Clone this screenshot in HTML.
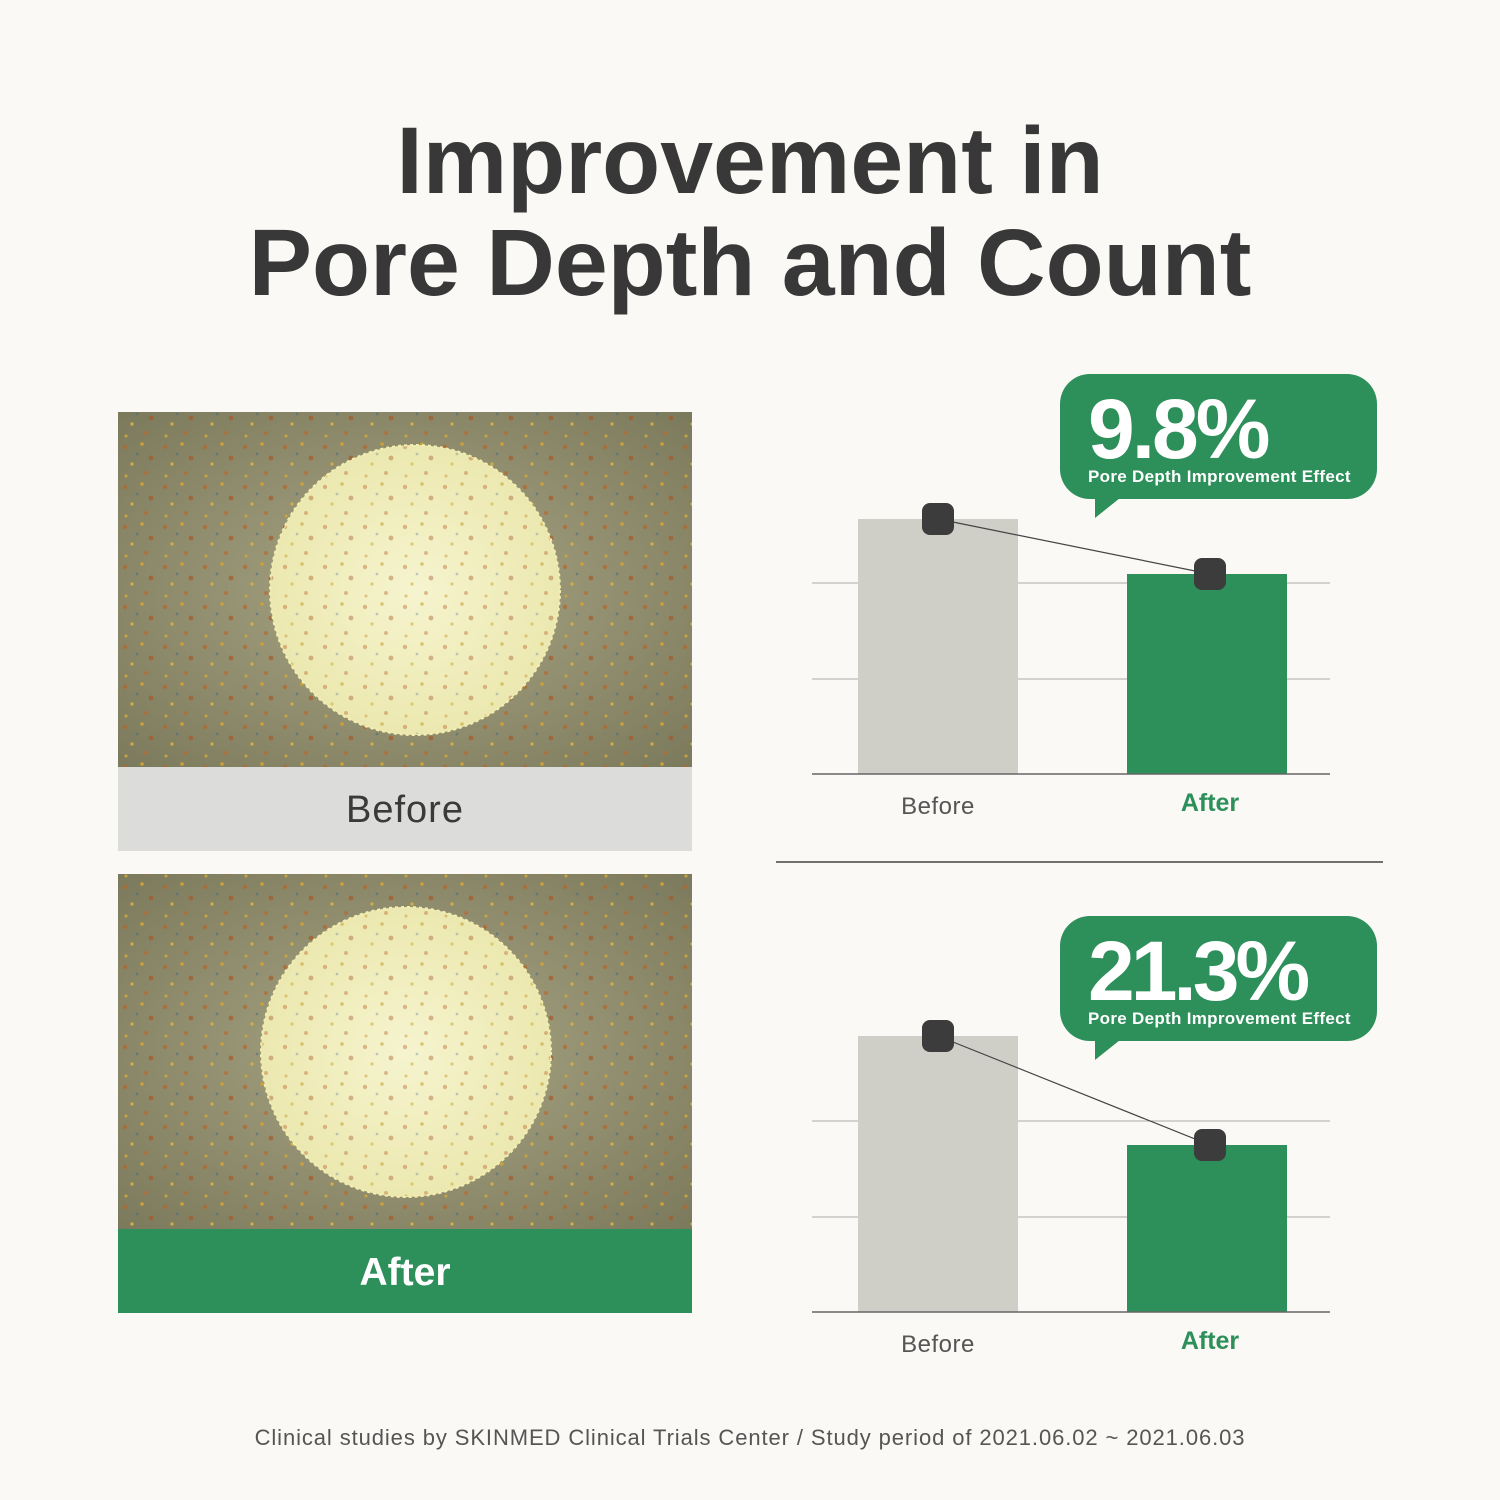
<!DOCTYPE html>
<html><head><meta charset="utf-8"><style>
body{margin:0;background:#fbf9f5;font-family:"Liberation Sans",sans-serif;}
.w{position:relative;width:1500px;height:1500px;overflow:hidden;background:#fbf9f5}
.t{position:absolute;left:0;width:1500px;text-align:center;font-weight:bold;color:#383838;font-size:95px;letter-spacing:0px}
.a{position:absolute}
</style></head><body><div class="w">
<div class="t" style="top:107px">Improvement in</div>
<div class="t" style="top:209px">Pore Depth and Count</div>
<svg class="a" style="left:0;top:0" width="1500" height="1500">
<defs>
<pattern id="sp" width="40" height="40" patternUnits="userSpaceOnUse">
<rect width="40" height="40" fill="none"/>
<circle cx="5" cy="7" r="2.2" fill="#b5662a" opacity=".7"/><circle cx="22" cy="4" r="1.8" fill="#c8a23a"/>
<circle cx="31" cy="18" r="2.4" fill="#a55a2a" opacity=".7"/><circle cx="12" cy="24" r="1.6" fill="#d0b040"/>
<circle cx="26" cy="33" r="2" fill="#b86a30" opacity=".7"/><circle cx="6" cy="36" r="1.5" fill="#c9a540"/>
<circle cx="17" cy="14" r="1.4" fill="#3a6a8a" opacity=".5"/>
</pattern>
<radialGradient id="bg" cx=".5" cy=".5" r=".7"><stop offset="0" stop-color="#a8a684"/><stop offset="1" stop-color="#7c7a5c"/></radialGradient>
<radialGradient id="cg"><stop offset="0" stop-color="#f6f4cf"/><stop offset="1" stop-color="#ece8b0"/></radialGradient>
</defs>
<rect x="118" y="412" width="574" height="355" fill="url(#bg)"/>
<rect x="118" y="412" width="574" height="355" fill="url(#sp)"/>
<circle cx="415" cy="590" r="145" fill="url(#cg)" stroke="#f3efb0" stroke-dasharray="3 3" stroke-width="2"/>
<circle cx="415" cy="590" r="144" fill="url(#sp)" opacity=".6"/>
<rect x="118" y="767" width="574" height="84" fill="#dcdcdb"/>
<text x="405" y="822" font-size="38" text-anchor="middle" fill="#3a3a3a" font-family="Liberation Sans" letter-spacing="1">Before</text>
<rect x="118" y="874" width="574" height="355" fill="url(#bg)"/>
<rect x="118" y="874" width="574" height="355" fill="url(#sp)"/>
<circle cx="406" cy="1052" r="145" fill="url(#cg)" stroke="#f3efb0" stroke-dasharray="3 3" stroke-width="2"/>
<circle cx="406" cy="1052" r="144" fill="url(#sp)" opacity=".6"/>
<rect x="118" y="1229" width="574" height="84" fill="#2d8f5a"/>
<text x="405" y="1285" font-size="39" font-weight="bold" text-anchor="middle" fill="#fff" font-family="Liberation Sans">After</text>

<g stroke="#aaa" stroke-width="1"><line x1="812" y1="583" x2="1330" y2="583"/><line x1="812" y1="679" x2="1330" y2="679"/>
<line x1="812" y1="1121" x2="1330" y2="1121"/><line x1="812" y1="1217" x2="1330" y2="1217"/></g>
<rect x="858" y="519" width="160" height="255" fill="#cfcec7"/>
<rect x="1127" y="574" width="160" height="200" fill="#2d8f5a"/>
<line x1="812" y1="774" x2="1330" y2="774" stroke="#666" stroke-width="1.5"/>
<line x1="938" y1="519" x2="1210" y2="574" stroke="#444" stroke-width="1.2"/>
<rect x="922" y="503" width="32" height="32" rx="8" fill="#3c3c3c"/>
<rect x="1194" y="558" width="32" height="32" rx="8" fill="#3c3c3c"/>
<text x="938" y="814" font-size="24" text-anchor="middle" fill="#555" font-family="Liberation Sans" letter-spacing="0.5">Before</text>
<text x="1210" y="811" font-size="25" font-weight="bold" text-anchor="middle" fill="#2d8f5a" font-family="Liberation Sans">After</text>
<line x1="776" y1="862" x2="1383" y2="862" stroke="#444" stroke-width="1.5"/>

<rect x="858" y="1036" width="160" height="276" fill="#cfcec7"/>
<rect x="1127" y="1145" width="160" height="167" fill="#2d8f5a"/>
<line x1="812" y1="1312" x2="1330" y2="1312" stroke="#666" stroke-width="1.5"/>
<line x1="938" y1="1036" x2="1210" y2="1145" stroke="#444" stroke-width="1.2"/>
<rect x="922" y="1020" width="32" height="32" rx="8" fill="#3c3c3c"/>
<rect x="1194" y="1129" width="32" height="32" rx="8" fill="#3c3c3c"/>
<text x="938" y="1352" font-size="24" text-anchor="middle" fill="#555" font-family="Liberation Sans" letter-spacing="0.5">Before</text>
<text x="1210" y="1349" font-size="25" font-weight="bold" text-anchor="middle" fill="#2d8f5a" font-family="Liberation Sans">After</text>

<rect x="1060" y="374" width="317" height="125" rx="30" fill="#2d8f5a"/>
<polygon points="1095,490 1130,490 1095,518" fill="#2d8f5a"/>
<text x="1088" y="458" font-size="84" font-weight="bold" fill="#fff" font-family="Liberation Sans" letter-spacing="-3">9.8%</text>
<text x="1088" y="482" font-size="17" font-weight="bold" fill="#fff" font-family="Liberation Sans" letter-spacing="0.3">Pore Depth Improvement Effect</text>
<rect x="1060" y="916" width="317" height="125" rx="30" fill="#2d8f5a"/>
<polygon points="1095,1032 1130,1032 1095,1060" fill="#2d8f5a"/>
<text x="1088" y="1000" font-size="84" font-weight="bold" fill="#fff" font-family="Liberation Sans" letter-spacing="-4">21.3%</text>
<text x="1088" y="1024" font-size="17" font-weight="bold" fill="#fff" font-family="Liberation Sans" letter-spacing="0.3">Pore Depth Improvement Effect</text>

<text x="750" y="1445" font-size="22" text-anchor="middle" fill="#555" font-family="Liberation Sans" letter-spacing="0.9">Clinical studies by SKINMED Clinical Trials Center / Study period of 2021.06.02 ~ 2021.06.03</text>
</svg>
</div></body></html>
